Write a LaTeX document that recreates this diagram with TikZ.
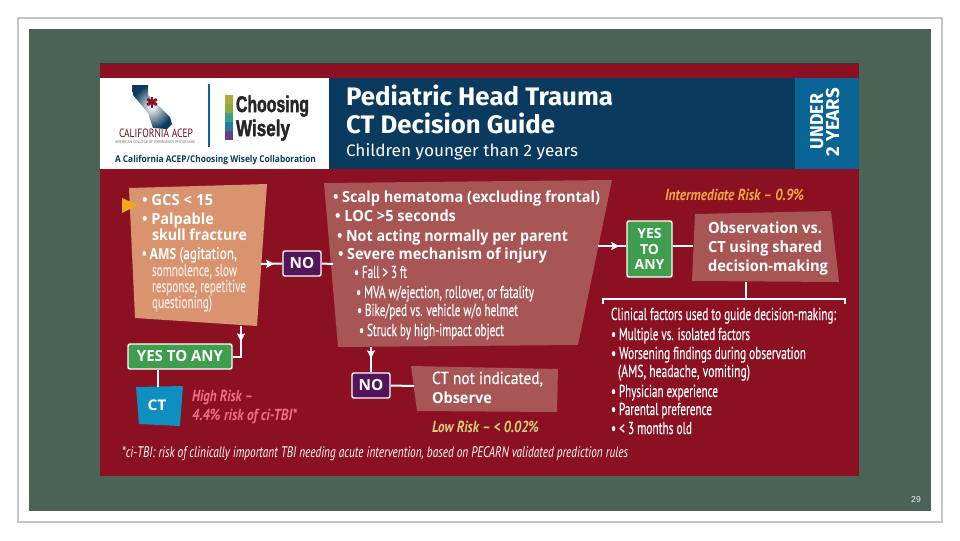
\documentclass[tikz,border=0pt]{standalone}
\usepackage{fontspec}
\usepackage{graphicx}
\setmainfont{PT Sans}
\newfontfamily\bodyf[FakeBold=0.4]{PT Sans}
\newfontfamily\heavyf{Open Sans}
\newfontfamily\logof[UprightFont=* Bold,FakeBold=2.2]{Liberation Sans}
\newfontfamily\titlef{Fira Sans}
\newfontfamily\pagef{Liberation Sans}
\usetikzlibrary{decorations.markings,arrows.meta}
\newdimen\pxu \pxu=0.75pt
\definecolor{frameg}{HTML}{C4C4C4}
\definecolor{panel}{HTML}{4A6354}
\definecolor{maroon}{HTML}{8A1022}
\definecolor{navy}{HTML}{0A3A5E}
\definecolor{sideblue}{HTML}{0A6496}
\definecolor{peach}{HTML}{D9946F}
\definecolor{rose}{HTML}{A85555}
\definecolor{purp}{HTML}{52145A}
\definecolor{grn}{HTML}{3F9E4D}
\definecolor{ctblue}{HTML}{0F8FBF}
\definecolor{hipink}{HTML}{F0707F}
\definecolor{lowy}{HTML}{D8CF80}
\definecolor{interm}{HTML}{F2A848}
\definecolor{tri}{HTML}{F0A818}
\definecolor{softw}{HTML}{F6E9E4}
\definecolor{cwa}{HTML}{B5A83A}
\definecolor{cwb}{HTML}{8DA83C}
\definecolor{cwc}{HTML}{3E9E80}
\definecolor{cwd}{HTML}{1F7EA0}
\definecolor{cwe}{HTML}{6A3A90}
\tikzset{
  txt/.style={inner sep=0pt,outer sep=0pt,anchor=base west,text=white},
  reg/.style={font=\bodyf\fontsize{13}{14}\selectfont},
  sub/.style={font=\fontsize{11}{13}\selectfont},
  hvy/.style={font=\heavyf\fontsize{11.5}{14}\selectfont\bfseries},
  ital/.style={font=\fontsize{12}{14}\selectfont\bfseries\itshape},
  title/.style={font=\titlef\fontsize{19}{22}\selectfont\bfseries},
  logo/.style={font=\logof\fontsize{17}{18}\selectfont,text=black!85},
  conn/.style={draw=white,line width=1.5pt},
  tipped/.style={conn,postaction={decorate},decoration={markings,mark=at position #1 with {\arrow[white]{Stealth[length=6pt,width=6pt,inset=1pt]}}}},
  tagbox/.style={draw=white,line width=1.1pt,rounded corners=1.5pt,inner sep=0pt,text=white,align=center},
}
\newcommand\tl[6]{\node[txt,#5] (#1) at (#2,#3) {\resizebox{#4\pxu}{\height}{#6}};}
\begin{document}
\begin{tikzpicture}[x=0.75pt,y=-0.75pt]
\useasboundingbox (0,0) rectangle (960,540);
\fill[white] (0,0) rectangle (960,540);
\draw[frameg,line width=0.8pt] (18,18) rectangle (942,522);
\fill[panel] (29,29) rectangle (931,511);
\fill[maroon] (100,64) rectangle (859,476);
\draw[black!80,line width=0.6pt] (100,63.5) -- (859,63.5);
% header
\fill[white] (100,78) rectangle (329,169);
\fill[navy] (329,78) rectangle (795,169);
\fill[sideblue] (795,78) rectangle (859,169);
% California logo
\shade[inner color=white,outer color=navy] (132,85) -- (148,85) -- (148,95) -- (170,117) -- (172,124) -- (167,129) -- (153,128) -- (148,113) -- (133,95) -- cycle;
\foreach \a in {90,30,-30} {
  \draw[maroon,line width=2.2pt] (152,102) ++(\a:5.5) -- ++(\a+180:11);
}
\tl{calacep}{119}{137}{74}{sub,font=\fontsize{9}{10}\selectfont,text=maroon!80!black}{CALIFORNIA ACEP}
\tl{acepsub}{115}{143}{80}{font=\fontsize{3}{3}\selectfont,text=black!60}{AMERICAN COLLEGE OF EMERGENCY PHYSICIANS}
\draw[sideblue,line width=1.2pt] (209,84) -- (209,147);
% Choosing Wisely logo
\fill[cwa] (225,95) rectangle (233,104);
\fill[cwb] (225,104) rectangle (233,113);
\fill[cwc] (225,113) rectangle (233,122);
\fill[cwd] (225,122) rectangle (233,131);
\fill[cwe] (225,131) rectangle (233,140);
\tl{choosing}{236}{112}{73}{logo}{Choosing}
\tl{wisely}{236}{136}{54}{logo}{Wisely}
\tl{collab}{115}{162}{201}{font=\heavyf\fontsize{7}{8}\selectfont\bfseries,text=navy}{A California ACEP/Choosing Wisely Collaboration}
% title
\tl{t1}{346}{105}{267}{title}{Pediatric Head Trauma}
\tl{t2}{346}{133}{209}{title}{CT Decision Guide}
\tl{t3}{346}{156}{232}{font=\titlef\fontsize{12.5}{15}\selectfont}{Children younger than 2 years}
\node[rotate=90,inner sep=0pt,anchor=base,text=white,font=\titlef\fontsize{14}{16}\selectfont\bfseries] (under) at (823,121.5) {\resizebox{55\pxu}{\height}{UNDER}};
\node[rotate=90,inner sep=0pt,anchor=base,text=white,font=\titlef\fontsize{14}{16}\selectfont\bfseries] (years) at (839,122) {\resizebox{68\pxu}{\height}{2 YEARS}};
% polygons
\fill[peach] (129,188) -- (267,184) -- (257,326) -- (135,318) -- cycle;
\fill[rose] (324,183) -- (612,180) -- (578,345) -- (338,347) -- cycle;
\fill[ctblue] (136,387) -- (183,386) -- (180,426) -- (139,424) -- cycle;
\fill[rose] (411,366) -- (558,369) -- (557,412) -- (417,411) -- cycle;
\fill[rose] (695,214) -- (831,211) -- (839,282) -- (692,281) -- cycle;
\fill[tri] (122,198) -- (138,205) -- (122,213) -- cycle;
% anchors of the polygons
\coordinate (b1r) at (261,264);
\coordinate (b1b) at (241,326);
\coordinate (b2l) at (333,264);
\coordinate (b2b) at (371,347);
\coordinate (b2r) at (598,246);
\coordinate (ctt) at (158,387);
\coordinate (lowl) at (414,386);
\coordinate (obsl) at (693,246);
\coordinate (obsb) at (746,282);
\coordinate (brl) at (603,304);
\coordinate (brm) at (746,299);
\coordinate (brr) at (845,304);
% tags
\node[tagbox,fill=purp,minimum width=38*0.75pt,minimum height=25*0.75pt,font=\heavyf\fontsize{11.5}{12}\selectfont\bfseries] (no1) at (302,263.5) {NO};
\node[tagbox,fill=purp,minimum width=38*0.75pt,minimum height=25*0.75pt,font=\heavyf\fontsize{11.5}{12}\selectfont\bfseries] (no2) at (371,385.5) {NO};
\node[tagbox,fill=grn,minimum width=104*0.75pt,minimum height=25*0.75pt,font=\heavyf\fontsize{11.5}{12}\selectfont\bfseries] (yes1) at (180,356.5) {\resizebox{86\pxu}{\height}{YES TO ANY}};
\node[tagbox,fill=grn,minimum width=45*0.75pt,minimum height=56*0.75pt,font=\heavyf\fontsize{10.5}{11.6}\selectfont\bfseries] (yes2) at (649.5,249) {YES\\TO\\ANY};
% connectors
\draw[tipped=0.62] (b1r) -- (no1.west);
\draw[conn] (no1.east) -- (b2l);
\draw[tipped=0.4] (b1b) |- (yes1.east);
\draw[conn] (yes1.south -| ctt) -- (ctt);
\draw[tipped=0.45] (b2b) -- (no2.north);
\draw[conn] (no2.east) -- (lowl);
\draw[tipped=0.75] (b2r) -- (yes2.west |- b2r);
\draw[conn] (yes2.east |- obsl) -- (obsl);
\draw[conn] (obsb) -- (brm);
\draw[conn] (brl) |- (brm) -| (brr);
% left box text
\tl{g1}{142}{205}{71}{hvy}{• GCS < 15}
\tl{g2}{142}{224}{72}{hvy}{• Palpable}
\tl{g3}{152}{240}{95}{hvy}{skull fracture}
\tl{g4}{142}{259}{95}{hvy}{• AMS {\bodyf\mdseries\fontsize{12.5}{14}\selectfont (agitation,}}
\tl{g5}{152}{276}{85}{reg,text=softw}{somnolence, slow}
\tl{g6}{152}{292}{94}{reg,text=softw}{response, repetitive}
\tl{g7}{152}{308}{60}{reg,text=softw}{questioning)}
\node[inner sep=0pt,text=white,font=\heavyf\fontsize{11}{12}\selectfont\bfseries] (ct) at (157,405) {\resizebox{19\pxu}{\height}{CT}};
\tl{h1}{192}{401}{61}{ital,text=hipink}{High Risk –}
\tl{h2}{192}{420}{105}{ital,text=hipink}{4.4\% risk of ci-TBI*}
\tl{foot}{122}{457}{506}{font=\fontsize{11.5}{13}\selectfont\itshape}{*ci-TBI: risk of clinically important TBI needing acute intervention, based on PECARN validated prediction rules}
% middle box text
\tl{m1}{333}{202}{267}{hvy}{• Scalp hematoma (excluding frontal)}
\tl{m2}{335}{221}{121}{hvy}{• LOC >5 seconds}
\tl{m3}{337}{241}{231}{hvy}{• Not acting normally per parent}
\tl{m4}{338}{259}{209}{hvy}{• Severe mechanism of injury}
\tl{m5}{354}{278}{53}{reg}{• Fall > 3 ft}
\tl{m6}{356}{298}{178}{reg}{• MVA w/ejection, rollover, or fatality}
\tl{m7}{357}{316}{161}{reg}{• Bike/ped vs. vehicle w/o helmet}
\tl{m8}{359}{336}{145}{reg}{• Struck by high-impact object}
\tl{l1}{432}{384}{111}{reg}{CT not indicated,}
\tl{l2}{432}{403}{60}{hvy}{Observe}
\tl{l3}{432}{432}{107}{ital,text=lowy}{Low Risk – < 0.02\%}
% right text
\tl{i1}{665}{200}{139}{ital,text=interm}{Intermediate Risk – 0.9\%}
\tl{o1}{708}{233}{114}{hvy}{Observation vs.}
\tl{o2}{708}{252}{114}{hvy}{CT using shared}
\tl{o3}{708}{271}{120}{hvy}{decision-making}
\tl{c0}{611}{320}{225}{reg}{Clinical factors used to guide decision-making:}
\tl{c1}{611}{340}{139}{reg}{• Multiple vs. isolated factors}
\tl{c2}{611}{359}{195}{reg}{• Worsening findings during observation}
\tl{c3}{618}{377}{132}{reg}{(AMS, headache, vomiting)}
\tl{c4}{611}{397}{107}{reg}{• Physician experience}
\tl{c5}{611}{415}{101}{reg}{• Parental preference}
\tl{c6}{611}{434}{81}{reg}{• < 3 months old}
\node[font=\pagef\fontsize{6.5}{8}\selectfont,text=white!90!panel,inner sep=0pt] (pg) at (916,500) {29};
\end{tikzpicture}
\end{document}
